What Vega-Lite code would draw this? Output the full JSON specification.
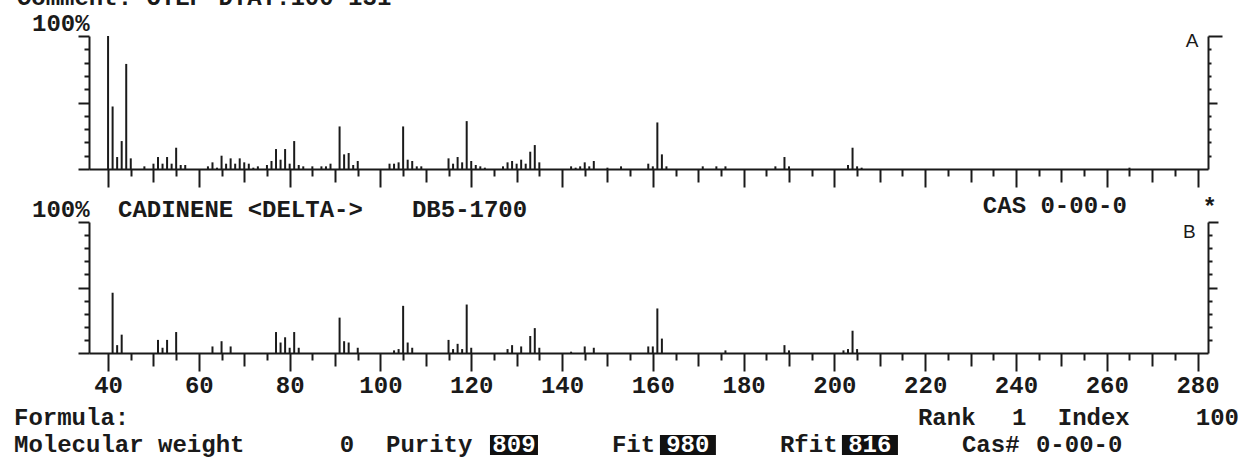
{
  "$schema": "https://vega.github.io/schema/vega-lite/v6.json",
  "background": "white",
  "padding": {"left": 14, "top": -14, "right": 0, "bottom": 0},
  "autosize": {"type": "pad"},
  "spacing": 53,
  "bounds": "flush",
  "config": {
    "view": {"stroke": null},
    "font": "Liberation Mono",
    "text": {"font": "Liberation Mono", "fontSize": 24, "fontWeight": "bold", "color": "#1a1a1a", "align": "left", "baseline": "middle"},
    "axis": {"grid": false, "title": null, "domainColor": "#1a1a1a", "domainWidth": 2, "tickColor": "#1a1a1a", "tickWidth": 2}
  },
  "datasets": {
    "peaks": [
      {"spectrum": "A", "mz": 40, "rel": 100}, {"spectrum": "A", "mz": 41, "rel": 47}, {"spectrum": "A", "mz": 42, "rel": 9}, {"spectrum": "A", "mz": 43, "rel": 21}, {"spectrum": "A", "mz": 44, "rel": 79}, {"spectrum": "A", "mz": 45, "rel": 8},
      {"spectrum": "A", "mz": 48, "rel": 2}, {"spectrum": "A", "mz": 50, "rel": 4}, {"spectrum": "A", "mz": 51, "rel": 9}, {"spectrum": "A", "mz": 52, "rel": 4}, {"spectrum": "A", "mz": 53, "rel": 9}, {"spectrum": "A", "mz": 54, "rel": 4}, {"spectrum": "A", "mz": 55, "rel": 16}, {"spectrum": "A", "mz": 56, "rel": 3}, {"spectrum": "A", "mz": 57, "rel": 3},
      {"spectrum": "A", "mz": 62, "rel": 2}, {"spectrum": "A", "mz": 63, "rel": 5}, {"spectrum": "A", "mz": 64, "rel": 1}, {"spectrum": "A", "mz": 65, "rel": 10}, {"spectrum": "A", "mz": 66, "rel": 4}, {"spectrum": "A", "mz": 67, "rel": 8}, {"spectrum": "A", "mz": 68, "rel": 4}, {"spectrum": "A", "mz": 69, "rel": 8}, {"spectrum": "A", "mz": 70, "rel": 5}, {"spectrum": "A", "mz": 71, "rel": 4}, {"spectrum": "A", "mz": 72, "rel": 1}, {"spectrum": "A", "mz": 73, "rel": 2},
      {"spectrum": "A", "mz": 75, "rel": 3}, {"spectrum": "A", "mz": 76, "rel": 6}, {"spectrum": "A", "mz": 77, "rel": 15}, {"spectrum": "A", "mz": 78, "rel": 7}, {"spectrum": "A", "mz": 79, "rel": 15}, {"spectrum": "A", "mz": 80, "rel": 4}, {"spectrum": "A", "mz": 81, "rel": 21}, {"spectrum": "A", "mz": 82, "rel": 3}, {"spectrum": "A", "mz": 83, "rel": 2},
      {"spectrum": "A", "mz": 85, "rel": 2}, {"spectrum": "A", "mz": 87, "rel": 2}, {"spectrum": "A", "mz": 88, "rel": 2}, {"spectrum": "A", "mz": 89, "rel": 4}, {"spectrum": "A", "mz": 91, "rel": 32}, {"spectrum": "A", "mz": 92, "rel": 11}, {"spectrum": "A", "mz": 93, "rel": 12}, {"spectrum": "A", "mz": 94, "rel": 3}, {"spectrum": "A", "mz": 95, "rel": 6},
      {"spectrum": "A", "mz": 102, "rel": 4}, {"spectrum": "A", "mz": 103, "rel": 4}, {"spectrum": "A", "mz": 104, "rel": 5}, {"spectrum": "A", "mz": 105, "rel": 32}, {"spectrum": "A", "mz": 106, "rel": 7}, {"spectrum": "A", "mz": 107, "rel": 6}, {"spectrum": "A", "mz": 108, "rel": 2}, {"spectrum": "A", "mz": 109, "rel": 2},
      {"spectrum": "A", "mz": 115, "rel": 8}, {"spectrum": "A", "mz": 116, "rel": 4}, {"spectrum": "A", "mz": 117, "rel": 9}, {"spectrum": "A", "mz": 118, "rel": 5}, {"spectrum": "A", "mz": 119, "rel": 36}, {"spectrum": "A", "mz": 120, "rel": 6}, {"spectrum": "A", "mz": 121, "rel": 3}, {"spectrum": "A", "mz": 122, "rel": 2}, {"spectrum": "A", "mz": 123, "rel": 1},
      {"spectrum": "A", "mz": 127, "rel": 2}, {"spectrum": "A", "mz": 128, "rel": 5}, {"spectrum": "A", "mz": 129, "rel": 6}, {"spectrum": "A", "mz": 130, "rel": 4}, {"spectrum": "A", "mz": 131, "rel": 7}, {"spectrum": "A", "mz": 132, "rel": 4}, {"spectrum": "A", "mz": 133, "rel": 13}, {"spectrum": "A", "mz": 134, "rel": 18}, {"spectrum": "A", "mz": 135, "rel": 5},
      {"spectrum": "A", "mz": 142, "rel": 2}, {"spectrum": "A", "mz": 143, "rel": 1}, {"spectrum": "A", "mz": 144, "rel": 2}, {"spectrum": "A", "mz": 145, "rel": 5}, {"spectrum": "A", "mz": 146, "rel": 2}, {"spectrum": "A", "mz": 147, "rel": 6}, {"spectrum": "A", "mz": 150, "rel": 1}, {"spectrum": "A", "mz": 153, "rel": 2},
      {"spectrum": "A", "mz": 159, "rel": 4}, {"spectrum": "A", "mz": 160, "rel": 2}, {"spectrum": "A", "mz": 161, "rel": 35}, {"spectrum": "A", "mz": 162, "rel": 11}, {"spectrum": "A", "mz": 163, "rel": 2},
      {"spectrum": "A", "mz": 171, "rel": 2}, {"spectrum": "A", "mz": 174, "rel": 2}, {"spectrum": "A", "mz": 176, "rel": 2}, {"spectrum": "A", "mz": 187, "rel": 2}, {"spectrum": "A", "mz": 189, "rel": 9}, {"spectrum": "A", "mz": 190, "rel": 2},
      {"spectrum": "A", "mz": 203, "rel": 3}, {"spectrum": "A", "mz": 204, "rel": 16}, {"spectrum": "A", "mz": 205, "rel": 2}, {"spectrum": "A", "mz": 206, "rel": 1}, {"spectrum": "A", "mz": 265, "rel": 1},
      {"spectrum": "B", "mz": 41, "rel": 46}, {"spectrum": "B", "mz": 42, "rel": 6}, {"spectrum": "B", "mz": 43, "rel": 14},
      {"spectrum": "B", "mz": 51, "rel": 10}, {"spectrum": "B", "mz": 52, "rel": 4}, {"spectrum": "B", "mz": 53, "rel": 10}, {"spectrum": "B", "mz": 55, "rel": 16},
      {"spectrum": "B", "mz": 63, "rel": 5}, {"spectrum": "B", "mz": 65, "rel": 9}, {"spectrum": "B", "mz": 67, "rel": 5},
      {"spectrum": "B", "mz": 77, "rel": 16}, {"spectrum": "B", "mz": 78, "rel": 8}, {"spectrum": "B", "mz": 79, "rel": 12}, {"spectrum": "B", "mz": 80, "rel": 4}, {"spectrum": "B", "mz": 81, "rel": 16}, {"spectrum": "B", "mz": 82, "rel": 4},
      {"spectrum": "B", "mz": 91, "rel": 27}, {"spectrum": "B", "mz": 92, "rel": 9}, {"spectrum": "B", "mz": 93, "rel": 8}, {"spectrum": "B", "mz": 95, "rel": 4},
      {"spectrum": "B", "mz": 103, "rel": 2}, {"spectrum": "B", "mz": 104, "rel": 3}, {"spectrum": "B", "mz": 105, "rel": 36}, {"spectrum": "B", "mz": 106, "rel": 8}, {"spectrum": "B", "mz": 107, "rel": 4},
      {"spectrum": "B", "mz": 115, "rel": 10}, {"spectrum": "B", "mz": 116, "rel": 3}, {"spectrum": "B", "mz": 117, "rel": 7}, {"spectrum": "B", "mz": 118, "rel": 3}, {"spectrum": "B", "mz": 119, "rel": 37}, {"spectrum": "B", "mz": 120, "rel": 4},
      {"spectrum": "B", "mz": 128, "rel": 3}, {"spectrum": "B", "mz": 129, "rel": 6}, {"spectrum": "B", "mz": 131, "rel": 5}, {"spectrum": "B", "mz": 133, "rel": 13}, {"spectrum": "B", "mz": 134, "rel": 19}, {"spectrum": "B", "mz": 135, "rel": 4},
      {"spectrum": "B", "mz": 142, "rel": 1}, {"spectrum": "B", "mz": 145, "rel": 5}, {"spectrum": "B", "mz": 147, "rel": 4},
      {"spectrum": "B", "mz": 159, "rel": 5}, {"spectrum": "B", "mz": 160, "rel": 5}, {"spectrum": "B", "mz": 161, "rel": 34}, {"spectrum": "B", "mz": 162, "rel": 11},
      {"spectrum": "B", "mz": 176, "rel": 2}, {"spectrum": "B", "mz": 189, "rel": 6}, {"spectrum": "B", "mz": 190, "rel": 2},
      {"spectrum": "B", "mz": 202, "rel": 2}, {"spectrum": "B", "mz": 203, "rel": 3}, {"spectrum": "B", "mz": 204, "rel": 17}, {"spectrum": "B", "mz": 205, "rel": 3}
    ]
  },
  "vconcat": [
    {
      "width": 1119,
      "height": 133,
      "resolve": {"axis": {"x": "independent", "y": "independent"}},
      "layer": [
        {
          "data": {"name": "peaks"},
          "transform": [{"filter": "datum.spectrum === 'A'"}],
          "mark": {"type": "rule", "strokeWidth": 2, "color": "#1a1a1a"},
          "encoding": {
            "x": {"field": "mz", "type": "quantitative",
              "scale": {"domain": [35.8, 282.3], "nice": false, "zero": false},
              "axis": {"orient": "bottom", "labels": false,
                "values": [35,40,45,50,55,60,65,70,75,80,85,90,95,100,105,110,115,120,125,130,135,140,145,150,155,160,165,170,175,180,185,190,195,200,205,210,215,220,225,230,235,240,245,250,255,260,265,270,275,280,285],
                "tickSize": {"condition": [{"test": "datum.value % 20 === 0", "value": 18}, {"test": "datum.value % 10 === 0", "value": 13}], "value": 7}}},
            "y": {"field": "rel", "type": "quantitative",
              "scale": {"domain": [0, 100], "nice": false},
              "axis": {"orient": "left", "labels": false, "values": [0,10,20,30,40,50,60,70,80,90,100],
                "tickSize": {"condition": {"test": "datum.value % 50 === 0", "value": 11}, "value": 5}}},
            "y2": {"datum": 0}
          }
        },
        {
          "data": {"values": [{}]},
          "mark": {"type": "text", "text": "A", "font": "Liberation Sans", "fontSize": 19, "fontWeight": "normal"},
          "encoding": {
            "x": {"datum": 277.4, "type": "quantitative", "axis": null},
            "y": {"datum": 95.9, "type": "quantitative",
              "axis": {"orient": "right", "labels": false, "values": [10,20,30,40,50,60,70,80,90,100],
                "tickSize": {"condition": [{"test": "datum.value === 100", "value": 14}, {"test": "datum.value === 50", "value": 9}], "value": 3}}}
          }
        },
        {
          "data": {"values": [{}]},
          "mark": {"type": "text", "text": "100%"},
          "encoding": {
            "x": {"datum": 23.24, "type": "quantitative", "axis": null},
            "y": {"datum": 109, "type": "quantitative", "axis": null}
          }
        },
        {
          "data": {"values": [{}]},
          "mark": {"type": "text", "text": "Comment:  OTEP DTAT.100 131"},
          "encoding": {
            "x": {"datum": 19.9, "type": "quantitative", "axis": null},
            "y": {"datum": 128.5, "type": "quantitative", "axis": null}
          }
        }
      ]
    },
    {
      "width": 1119,
      "height": 131,
      "resolve": {"axis": {"x": "independent", "y": "independent"}},
      "layer": [
        {
          "data": {"name": "peaks"},
          "transform": [{"filter": "datum.spectrum === 'B'"}],
          "mark": {"type": "rule", "strokeWidth": 2, "color": "#1a1a1a"},
          "encoding": {
            "x": {"field": "mz", "type": "quantitative",
              "scale": {"domain": [35.8, 282.3], "nice": false, "zero": false},
              "axis": {"orient": "bottom", "labels": true, "labelOverlap": false, "labelFlush": false,
                "labelFont": "Liberation Mono", "labelFontSize": 24, "labelFontWeight": "bold", "labelColor": "#1a1a1a", "labelPadding": 2,
                "labelExpr": "(datum.value % 20 === 0 && datum.value >= 40 && datum.value <= 280) ? datum.label : ''",
                "values": [35,40,45,50,55,60,65,70,75,80,85,90,95,100,105,110,115,120,125,130,135,140,145,150,155,160,165,170,175,180,185,190,195,200,205,210,215,220,225,230,235,240,245,250,255,260,265,270,275,280,285],
                "tickSize": {"condition": [{"test": "datum.value % 20 === 0", "value": 18}, {"test": "datum.value % 10 === 0", "value": 13}], "value": 7}}},
            "y": {"field": "rel", "type": "quantitative",
              "scale": {"domain": [0, 100], "nice": false},
              "axis": {"orient": "left", "labels": false, "values": [0,10,20,30,40,50,60,70,80,90,100],
                "tickSize": {"condition": {"test": "datum.value % 50 === 0", "value": 11}, "value": 5}}},
            "y2": {"datum": 0}
          }
        },
        {
          "data": {"values": [{}]},
          "mark": {"type": "text", "text": "B", "font": "Liberation Sans", "fontSize": 19, "fontWeight": "normal"},
          "encoding": {
            "x": {"datum": 276.8, "type": "quantitative", "axis": null},
            "y": {"datum": 92, "type": "quantitative",
              "axis": {"orient": "right", "labels": false, "values": [10,20,30,40,50,60,70,80,90,100],
                "tickSize": {"condition": [{"test": "datum.value === 100", "value": 10}, {"test": "datum.value === 50", "value": 9}], "value": 4}}}
          }
        },
        {"data": {"values": [{}]}, "mark": {"type": "text", "text": "100%"},
          "encoding": {"x": {"datum": 23.24, "type": "quantitative", "axis": null}, "y": {"datum": 109.2, "type": "quantitative", "axis": null}}},
        {"data": {"values": [{}]}, "mark": {"type": "text", "text": "CADINENE <DELTA->"},
          "encoding": {"x": {"datum": 42.19, "type": "quantitative", "axis": null}, "y": {"datum": 109.2, "type": "quantitative", "axis": null}}},
        {"data": {"values": [{}]}, "mark": {"type": "text", "text": "DB5-1700"},
          "encoding": {"x": {"datum": 106.94, "type": "quantitative", "axis": null}, "y": {"datum": 109.2, "type": "quantitative", "axis": null}}},
        {"data": {"values": [{}]}, "mark": {"type": "text", "text": "CAS 0-00-0"},
          "encoding": {"x": {"datum": 232.7, "type": "quantitative", "axis": null}, "y": {"datum": 112.2, "type": "quantitative", "axis": null}}},
        {"data": {"values": [{}]}, "mark": {"type": "text", "text": "*", "align": "center"},
          "encoding": {"x": {"datum": 282.7, "type": "quantitative", "axis": null}, "y": {"datum": 111, "type": "quantitative", "axis": null}}},
        {"data": {"values": [{}]}, "mark": {"type": "text", "text": "Formula:"},
          "encoding": {"x": {"datum": 19.28, "type": "quantitative", "axis": null}, "y": {"datum": -49.6, "type": "quantitative", "axis": null}}},
        {"data": {"values": [{}]}, "mark": {"type": "text", "text": "Rank"},
          "encoding": {"x": {"datum": 218.4, "type": "quantitative", "axis": null}, "y": {"datum": -49.6, "type": "quantitative", "axis": null}}},
        {"data": {"values": [{}]}, "mark": {"type": "text", "text": "1"},
          "encoding": {"x": {"datum": 239.1, "type": "quantitative", "axis": null}, "y": {"datum": -49.6, "type": "quantitative", "axis": null}}},
        {"data": {"values": [{}]}, "mark": {"type": "text", "text": "Index"},
          "encoding": {"x": {"datum": 249.2, "type": "quantitative", "axis": null}, "y": {"datum": -49.6, "type": "quantitative", "axis": null}}},
        {"data": {"values": [{}]}, "mark": {"type": "text", "text": "100"},
          "encoding": {"x": {"datum": 279.6, "type": "quantitative", "axis": null}, "y": {"datum": -49.6, "type": "quantitative", "axis": null}}},
        {"data": {"values": [{}]}, "mark": {"type": "text", "text": "Molecular weight"},
          "encoding": {"x": {"datum": 19.28, "type": "quantitative", "axis": null}, "y": {"datum": -70.2, "type": "quantitative", "axis": null}}},
        {"data": {"values": [{}]}, "mark": {"type": "text", "text": "0", "align": "center"},
          "encoding": {"x": {"datum": 92.63, "type": "quantitative", "axis": null}, "y": {"datum": -70.2, "type": "quantitative", "axis": null}}},
        {"data": {"values": [{}]}, "mark": {"type": "text", "text": "Purity"},
          "encoding": {"x": {"datum": 101.22, "type": "quantitative", "axis": null}, "y": {"datum": -70.2, "type": "quantitative", "axis": null}}},
        {"data": {"values": [{}]}, "mark": {"type": "text", "text": "Fit"},
          "encoding": {"x": {"datum": 151.0, "type": "quantitative", "axis": null}, "y": {"datum": -70.2, "type": "quantitative", "axis": null}}},
        {"data": {"values": [{}]}, "mark": {"type": "text", "text": "Rfit"},
          "encoding": {"x": {"datum": 188.0, "type": "quantitative", "axis": null}, "y": {"datum": -70.2, "type": "quantitative", "axis": null}}},
        {"data": {"values": [{}]}, "mark": {"type": "text", "text": "Cas#"},
          "encoding": {"x": {"datum": 228.1, "type": "quantitative", "axis": null}, "y": {"datum": -70.2, "type": "quantitative", "axis": null}}},
        {"data": {"values": [{}]}, "mark": {"type": "text", "text": "0-00-0"},
          "encoding": {"x": {"datum": 244.4, "type": "quantitative", "axis": null}, "y": {"datum": -70.2, "type": "quantitative", "axis": null}}},
        {"data": {"values": [{}]}, "mark": {"type": "rect", "color": "#111111"},
          "encoding": {"x": {"datum": 124.13, "type": "quantitative", "axis": null}, "x2": {"datum": 134.7},
            "y": {"datum": -62.6, "type": "quantitative", "axis": null}, "y2": {"datum": -77.9}}},
        {"data": {"values": [{}]}, "mark": {"type": "rect", "color": "#111111"},
          "encoding": {"x": {"datum": 161.57, "type": "quantitative", "axis": null}, "x2": {"datum": 173.9},
            "y": {"datum": -62.6, "type": "quantitative", "axis": null}, "y2": {"datum": -77.9}}},
        {"data": {"values": [{}]}, "mark": {"type": "rect", "color": "#111111"},
          "encoding": {"x": {"datum": 201.66, "type": "quantitative", "axis": null}, "x2": {"datum": 214.0},
            "y": {"datum": -62.6, "type": "quantitative", "axis": null}, "y2": {"datum": -77.9}}},
        {"data": {"values": [{}]}, "mark": {"type": "text", "text": "809", "align": "center", "color": "white"},
          "encoding": {"x": {"datum": 129.41, "type": "quantitative", "axis": null}, "y": {"datum": -70.2, "type": "quantitative", "axis": null}}},
        {"data": {"values": [{}]}, "mark": {"type": "text", "text": "980", "align": "center", "color": "white"},
          "encoding": {"x": {"datum": 167.7, "type": "quantitative", "axis": null}, "y": {"datum": -70.2, "type": "quantitative", "axis": null}}},
        {"data": {"values": [{}]}, "mark": {"type": "text", "text": "816", "align": "center", "color": "white"},
          "encoding": {"x": {"datum": 207.8, "type": "quantitative", "axis": null}, "y": {"datum": -70.2, "type": "quantitative", "axis": null}}}
      ]
    }
  ]
}
